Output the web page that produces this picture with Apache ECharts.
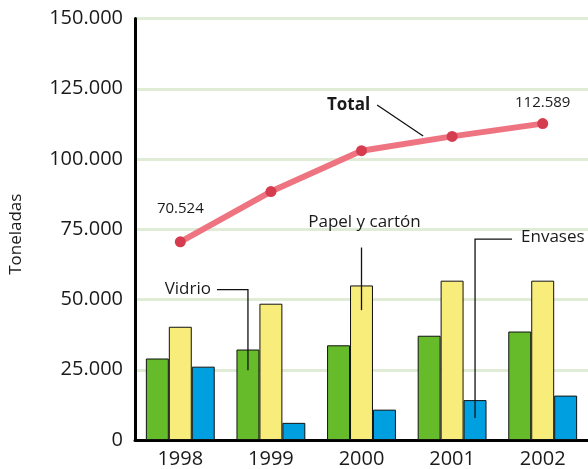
<!DOCTYPE html>
<html>
<head>
<meta charset="utf-8">
<script src="https://cdn.jsdelivr.net/npm/echarts@6/dist/echarts.min.js"></script>
<style>
html,body{margin:0;padding:0;background:#fff;}
#c{width:588px;height:469px;}
</style>
</head>
<body>
<div id="c"></div>
<script>
const years = ['1998','1999','2000','2001','2002'];
const vidrio = [29000, 32200, 33700, 37100, 38600];
const papel = [40300, 48500, 55000, 56700, 56700];
const envases = [26100, 6100, 10800, 14200, 15800];
const total = [70524, 88400, 102950, 108050, 112589];
const yTicks = [0, 25000, 50000, 75000, 100000, 125000, 150000];

const FONT = '"Open Sans", "Noto Sans", sans-serif';
const TXT = '#1a1a1a';
function fmt(n){ return String(n).replace(/\B(?=(\d{3})+(?!\d))/g, '.'); }

const chart = echarts.init(document.getElementById('c'), null, {renderer:'canvas'});

const barCommon = {
  type: 'bar',
  barGap: '0%',
  barCategoryGap: '24%'
};

chart.setOption({
  animation: false,
  backgroundColor: '#fff',
  grid: { left: 135, right: 0, top: 18.5, bottom: 28, containLabel: false },
  xAxis: {
    type: 'category',
    data: years,
    axisLine: { show: true, lineStyle: { color: '#000', width: 3 } },
    axisTick: { show: false },
    axisLabel: { color: TXT, fontFamily: FONT, fontSize: 20, margin: 9 },
    splitLine: { show: false }
  },
  yAxis: {
    type: 'value',
    min: yTicks[0],
    max: yTicks[yTicks.length - 1],
    interval: yTicks[1] - yTicks[0],
    name: 'Toneladas',
    nameLocation: 'middle',
    nameRotate: 90,
    nameGap: 110,
    nameTextStyle: { color: TXT, fontFamily: FONT, fontSize: 17, padding: [0, 10, 0, 0] },
    axisLine: { show: true, lineStyle: { color: '#000', width: 3 } },
    axisTick: { show: false },
    axisLabel: { color: TXT, fontFamily: FONT, fontSize: 20, margin: 12, formatter: v => fmt(v) },
    splitLine: { show: true, lineStyle: { color: '#e0ecd5', width: 3 } }
  },
  series: [
    Object.assign({}, barCommon, { name: 'Vidrio', data: vidrio, itemStyle: { color: '#66bb2a', borderColor: '#111', borderWidth: 1 } }),
    Object.assign({}, barCommon, { name: 'Papel y cartón', data: papel, itemStyle: { color: '#f8ec7b', borderColor: '#111', borderWidth: 1 } }),
    Object.assign({}, barCommon, { name: 'Envases', data: envases, itemStyle: { color: '#00a0e0', borderColor: '#111', borderWidth: 1 } }),
    {
      name: 'Total',
      type: 'line',
      z: 5,
      data: total.map((v, i) => {
        const item = { value: v };
        if (i === 0) item.label = { show: true, position: 'top', distance: 20 };
        if (i === total.length - 1) item.label = { show: true, position: 'top', distance: 8 };
        return item;
      }),
      symbol: 'circle',
      symbolSize: 11,
      lineStyle: { color: '#ef7481', width: 6 },
      itemStyle: { color: '#d63c50', borderWidth: 0 },
      label: { color: TXT, fontFamily: FONT, fontSize: 15, formatter: p => fmt(p.value) }
    }
  ]
});

// Annotations anchored on the data through the chart's scales
function px(i, v){ return chart.convertToPixel({ xAxisIndex: 0, yAxisIndex: 0 }, [i, v]); }
const band = px(1, 0)[0] - px(0, 0)[0];
const barW = band * 0.76 / 3;
const lineStyle = { stroke: '#111', lineWidth: 1.3 };
const txt = (x, y, s, align, bold) => ({
  type: 'text', x: x, y: y, z: 100,
  style: { text: s, fill: TXT, fontFamily: FONT, fontSize: 17, fontWeight: bold ? 'bold' : 'normal', align: align, verticalAlign: 'middle' }
});

// Vidrio -> 1999 green bar
const vX = px(1, 0)[0] - barW;
const vBot = px(1, vidrio[1] * 0.77)[1];
const vTop = px(1, 53500)[1];
// Papel -> 2000 yellow bar
const pX = px(2, 0)[0];
const pTop = px(2, 68500)[1];
const pBot = px(2, papel[2] * 0.84)[1];
// Envases -> 2001 blue bar
const eX = px(3, 0)[0] + barW;
const eTop = px(3, 71500)[1];
const eBot = px(3, envases[3] * 0.55)[1];
// Total -> segment between 2000 and 2001
const t0 = px(2, total[2]), t1 = px(3, total[3]);
const tEnd = [t0[0] + (t1[0] - t0[0]) * 0.68, t0[1] + (t1[1] - t0[1]) * 0.68 - 5];

chart.setOption({
  graphic: [
    { type: 'polyline', z: 100, shape: { points: [[vX - 31, vTop], [vX, vTop], [vX, vBot]] }, style: lineStyle },
    txt(vX - 37, vTop - 1, 'Vidrio', 'right'),
    { type: 'line', z: 100, shape: { x1: pX, y1: pTop, x2: pX, y2: pBot }, style: lineStyle },
    txt(pX + 3, pTop - 25, 'Papel y cartón', 'center'),
    { type: 'polyline', z: 100, shape: { points: [[eX + 37, eTop], [eX, eTop], [eX, eBot]] }, style: lineStyle },
    txt(eX + 46, eTop - 2, 'Envases', 'left'),
    { type: 'line', z: 100, shape: { x1: tEnd[0] - 46, y1: tEnd[1] - 31, x2: tEnd[0], y2: tEnd[1] }, style: lineStyle },
    txt(tEnd[0] - 53, tEnd[1] - 31, 'Total', 'right', true)
  ]
});
</script>
</body>
</html>
